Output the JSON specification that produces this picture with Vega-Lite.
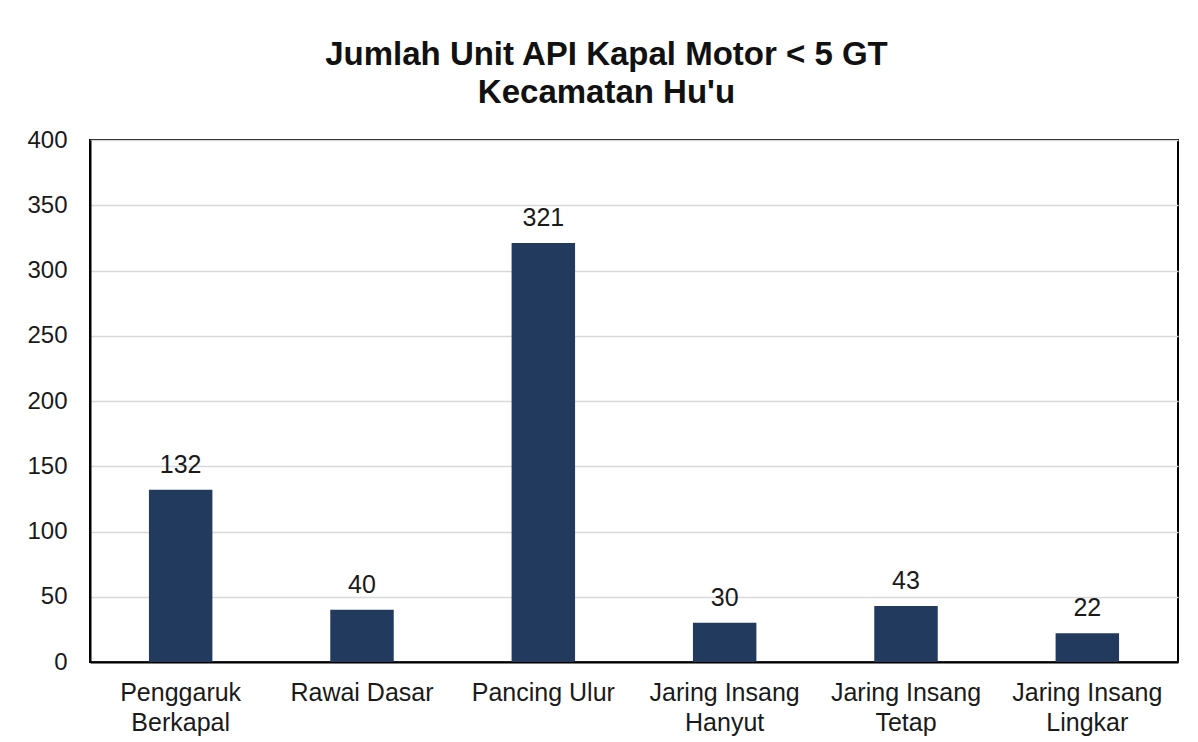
{
  "$schema": "https://vega.github.io/schema/vega-lite/v6.json",
  "width": 1088,
  "height": 522,
  "autosize": {"type": "none"},
  "padding": {"left": 90, "top": 140, "right": 20, "bottom": 80},
  "background": "white",
  "title": {
    "text": ["Jumlah Unit API Kapal Motor < 5 GT", "Kecamatan Hu'u"],
    "font": "Liberation Sans",
    "fontSize": 33,
    "fontWeight": "bold",
    "color": "#111111",
    "lineHeight": 38,
    "anchor": "middle",
    "frame": "bounds",
    "dx": 4,
    "offset": 18
  },
  "data": {
    "values": [
      {"alat": "Penggaruk Berkapal", "unit": 132},
      {"alat": "Rawai Dasar", "unit": 40},
      {"alat": "Pancing Ulur", "unit": 321},
      {"alat": "Jaring Insang Hanyut", "unit": 30},
      {"alat": "Jaring Insang Tetap", "unit": 43},
      {"alat": "Jaring Insang Lingkar", "unit": 22}
    ]
  },
  "encoding": {
    "x": {
      "field": "alat",
      "type": "nominal",
      "sort": null,
      "scale": {"paddingInner": 0.65, "paddingOuter": 0.325},
      "axis": {
        "title": null,
        "labelAngle": 0,
        "labelFont": "Liberation Sans",
        "labelFontSize": 25,
        "labelColor": "#1a1a1a",
        "labelPadding": 18,
        "labelLineHeight": 30,
        "labelExpr": "length(datum.label) > 12 ? [substring(datum.label, 0, lastindexof(datum.label, ' ')), substring(datum.label, lastindexof(datum.label, ' ') + 1)] : datum.label",
        "ticks": false,
        "domainColor": "#000000",
        "domainWidth": 2,
        "grid": false
      }
    },
    "y": {
      "field": "unit",
      "type": "quantitative",
      "scale": {"domain": [0, 400]},
      "axis": {
        "title": null,
        "values": [0, 50, 100, 150, 200, 250, 300, 350, 400],
        "labelFont": "Liberation Sans",
        "labelFontSize": 24,
        "labelColor": "#1a1a1a",
        "labelPadding": 23,
        "ticks": false,
        "domainColor": "#000000",
        "domainWidth": 2,
        "gridColor": "#d9d9d9",
        "gridWidth": 1.5
      }
    }
  },
  "layer": [
    {"mark": {"type": "bar", "color": "#223a5e"}},
    {
      "mark": {
        "type": "text",
        "font": "Liberation Sans",
        "fontSize": 25,
        "color": "#1a1a1a",
        "baseline": "alphabetic",
        "dy": -17
      },
      "encoding": {"text": {"field": "unit", "type": "quantitative"}}
    }
  ],
  "config": {
    "view": {"stroke": "#000000", "strokeWidth": 2}
  }
}
